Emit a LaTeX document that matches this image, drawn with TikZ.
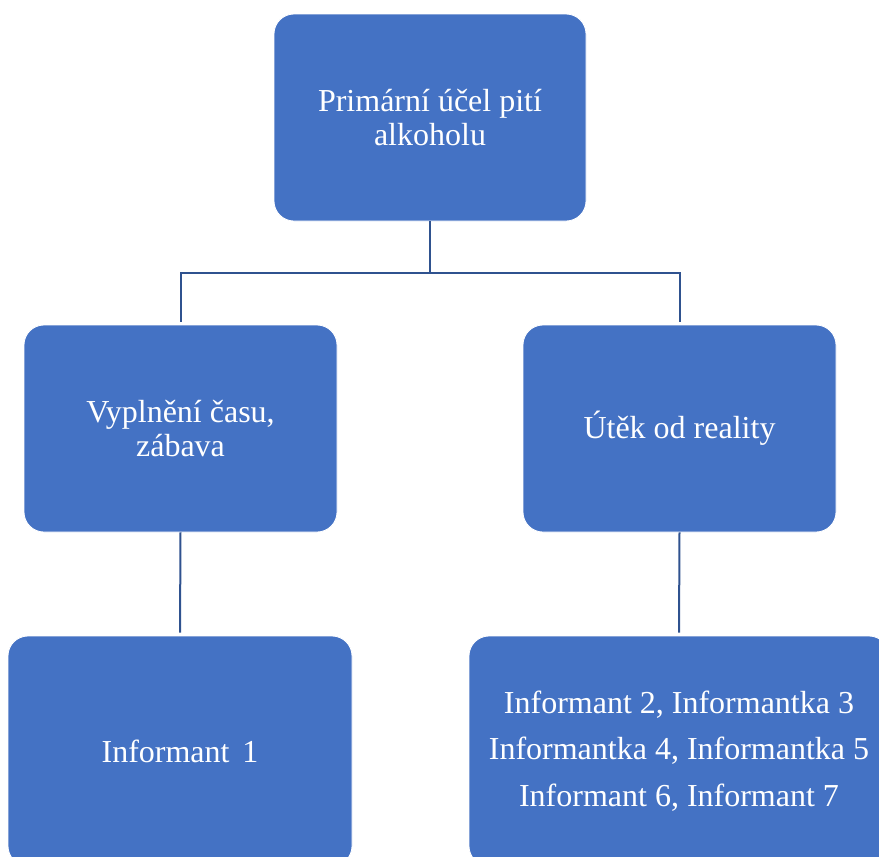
\documentclass[tikz,border=0pt]{standalone}
\usepackage{fontspec}
\setmainfont{Liberation Serif}
\definecolor{boxblue}{HTML}{4472C4}
\definecolor{linkblue}{HTML}{2F528F}
\tikzset{
  box/.style={draw=white, line width=0.8pt, fill=boxblue, rounded corners=20pt,
    text=white, align=center, inner sep=0pt,
    font=\fontsize{32}{34}\selectfont},
  conn/.style={draw=linkblue, line width=2pt}
}
\begin{document}
\begin{tikzpicture}[x=1pt,y=-1pt]
\useasboundingbox (0,0) rectangle (879,857);
\clip (0,0) rectangle (879,857);
\node[box, minimum width=312pt, minimum height=207pt] (top) at (430,117.5) {Primární účel pití\\alkoholu};
\node[box, minimum width=313pt, minimum height=207pt] (ml) at (180.5,428.5) {Vyplnění času,\\zábava};
\node[box, minimum width=313pt, minimum height=207pt] (mr) at (679.5,428.5) {Útěk od reality};
\node[box, minimum width=344pt, minimum height=230pt] (bl) at (180,751) {Informant\hspace{0.4em}1};
\node[box, minimum width=420pt, minimum height=230pt, font=\fontsize{32}{46.5}\selectfont] (br) at (679,751) {Informant~2, Informantka~3\\Informantka~4, Informantka~5\\Informant~6, Informant~7};
\coordinate (hub) at (430,273);
\draw[conn] (top.south) -- (hub);
\draw[conn, shorten >=3pt] (hub) -| (ml.north);
\draw[conn, shorten >=3pt] (hub) -| (mr.north);
\draw[conn, shorten >=3pt] (ml.south) -- (bl.north);
\draw[conn, shorten >=3pt] (mr.south) -- (br.north);
\end{tikzpicture}
\end{document}
